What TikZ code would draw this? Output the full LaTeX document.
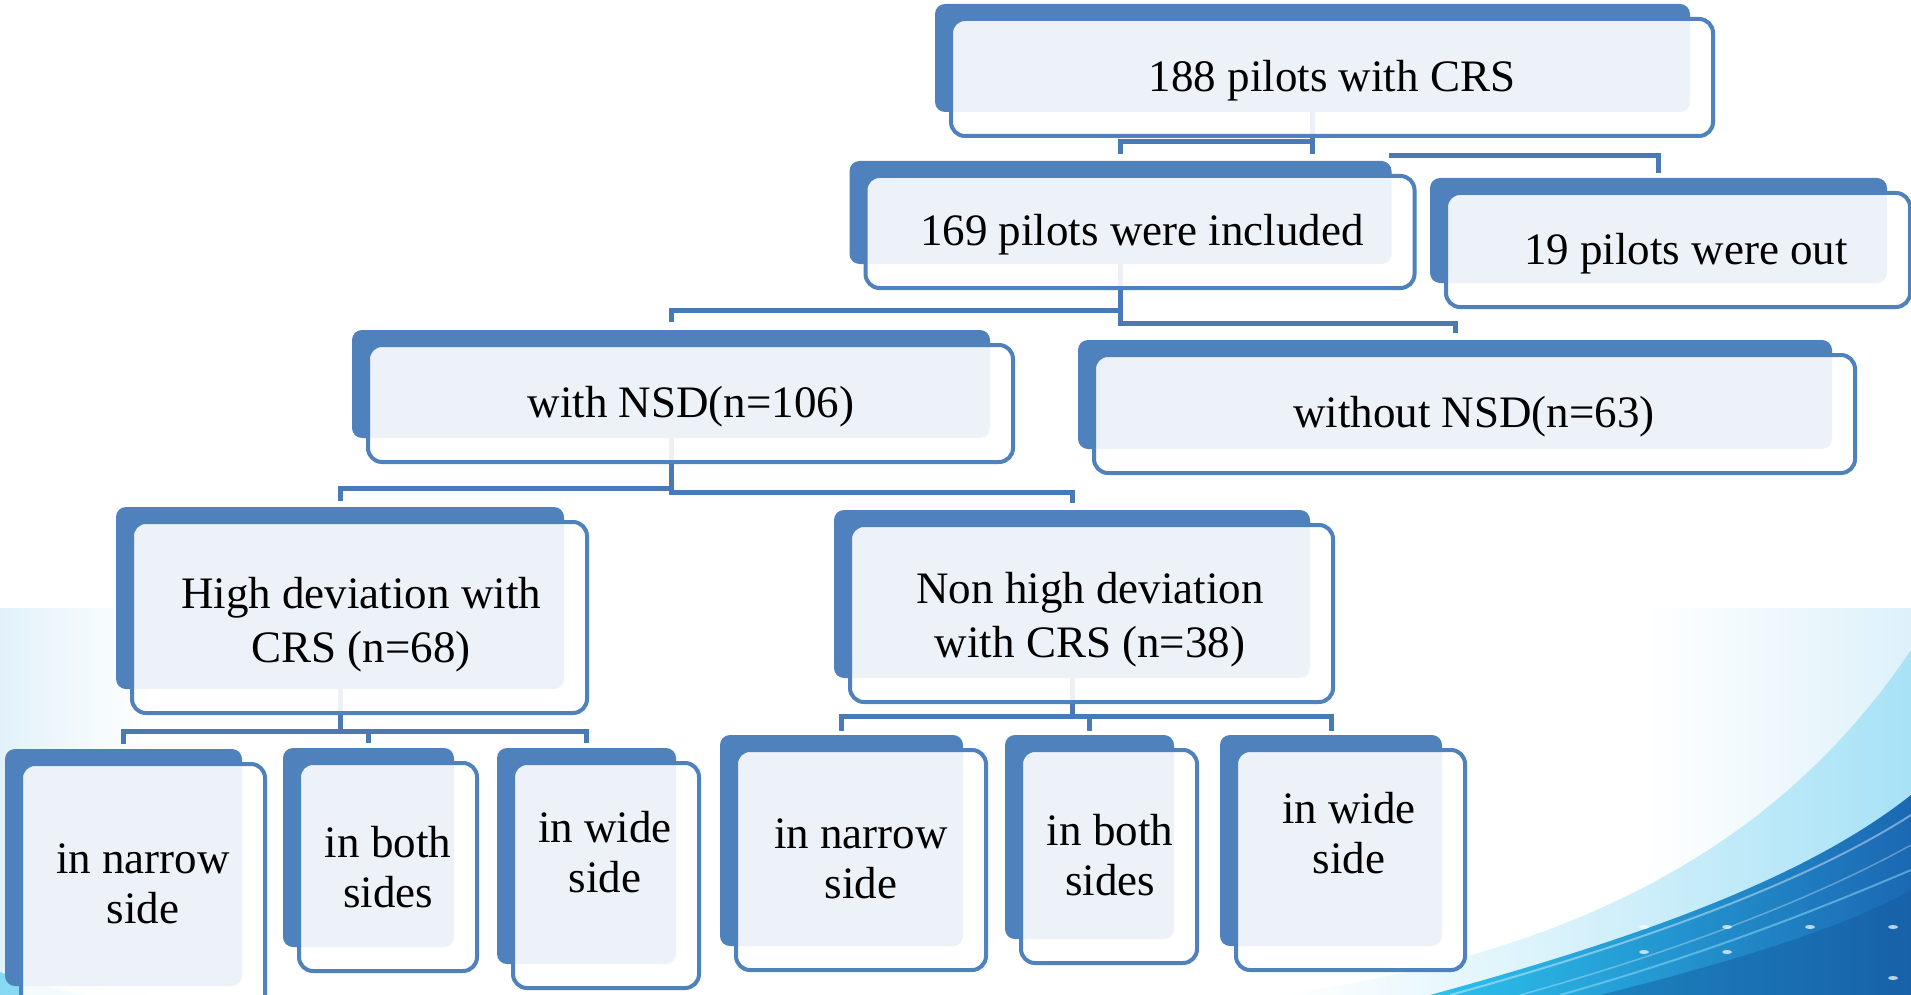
\documentclass[tikz,border=0pt]{standalone}
\usepackage{fontspec}
\setmainfont{Liberation Serif}
\usetikzlibrary{calc}
\definecolor{boxblue}{HTML}{4F81BD}
\definecolor{linkblue}{HTML}{4A7AB5}
\definecolor{bandL}{HTML}{E2F2FA}
\definecolor{bandR}{HTML}{DDF1FA}
\definecolor{hazec}{HTML}{A8E2F6}
\definecolor{waveA}{HTML}{2CC2EE}
\definecolor{waveB}{HTML}{1B68B2}
\definecolor{waveC}{HTML}{135A9E}
\pgfdeclarelayer{bg}
\pgfdeclarelayer{mid}
\pgfsetlayers{bg,mid,main}
\pgfdeclarehorizontalshading{band}{100bp}{color(0bp)=(bandL); color(25bp)=(bandL); color(29bp)=(white); color(68bp)=(white); color(75bp)=(bandR); color(100bp)=(bandR)}
\tikzset{
  backbox/.style={fill=boxblue, rounded corners=10pt, inner sep=0pt, outer sep=0pt},
  frontbox/.style={draw=boxblue, line width=4pt, fill=white, fill opacity=0.9, rounded corners=14pt, inner sep=0pt, outer sep=0pt},
  conn/.style={draw=linkblue, line width=5pt},
  lbl/.style={font=\fontsize{45}{54}\selectfont, text=black, inner sep=0pt, anchor=base},
  lblsmall/.style={font=\fontsize{45}{50}\selectfont, text=black, inner sep=0pt, anchor=base},
}
\newcommand{\duobox}[5]{%
  \node[frontbox, minimum width=#4pt, minimum height=#5pt] (#1) at (#2,#3) {};
  \begin{pgfonlayer}{mid}
    \node[backbox, minimum width=#4pt-7pt, minimum height=#5pt-9pt] (#1b) at ([xshift=-19.5pt,yshift=19.5pt]#1.center) {};
  \end{pgfonlayer}}
\newcommand{\twolines}[2]{\vtop{\halign{\hfil##\hfil\cr #1\cr #2\cr}}}
\begin{document}
\begin{tikzpicture}[x=1pt,y=-1pt]
\useasboundingbox (0,0) rectangle (1911,995);
\begin{pgfonlayer}{bg}
  \fill[white] (0,0) rectangle (1911,995);
  \shade[shading=band] (0,608) rectangle (1911,995);
  \shade[left color=white, right color=hazec] (1280,995) .. controls (1600,950) and (1790,830) .. (1911,650) -- (1911,995) -- cycle;
  \shade[left color=waveA, right color=waveB] (1430,995) .. controls (1650,935) and (1810,875) .. (1911,795) -- (1911,995) -- cycle;
  \fill[waveC, opacity=0.45] (1600,995) .. controls (1740,960) and (1850,925) .. (1911,890) -- (1911,995) -- cycle;
  \draw[white, opacity=0.4, line width=2pt] (1450,995) .. controls (1650,940) and (1810,880) .. (1911,815);
  \draw[white, opacity=0.3, line width=1.5pt] (1520,995) .. controls (1700,945) and (1830,890) .. (1911,845);
  \draw[waveA!50!white, opacity=0.5, line width=2pt] (1560,995) .. controls (1720,950) and (1840,900) .. (1911,870);
  \foreach \x/\y in {1644/927,1727/927,1810/927,1893/927,1644/952,1727/952,1893/978}
    \fill[white, opacity=0.7] (\x,\y) ellipse (5 and 2);
  \fill[waveA, opacity=0.5] (0,972) .. controls (30,983) and (60,991) .. (85,995) -- (0,995) -- cycle;
\end{pgfonlayer}

\duobox{A}{1332}{77.5}{762}{117}
\duobox{B}{1140}{232}{549}{112}
\duobox{C}{1678}{250}{464}{114}
\duobox{D}{690.5}{403.5}{645}{117}
\duobox{E}{1474.5}{414}{761}{118}
\duobox{F}{359.5}{617.5}{455}{191}
\duobox{G}{1091.5}{613.5}{483}{177}
\duobox{H1}{143}{887}{244}{246}
\duobox{H2}{388}{867}{178}{208}
\duobox{H3}{606}{875.5}{186}{225}
\duobox{G1}{861}{860}{250}{220}
\duobox{G2}{1109}{856.5}{176}{213}
\duobox{G3}{1350.5}{860}{229}{220}

\begin{pgfonlayer}{mid}
  % 188 -> 169
  \draw[conn] (Ab.south) -- ($(Ab.south |- Bb.north)+(0,-7)$);
  \draw[conn] ($(Ab.south)+(0,30)$) -| ($(Bb.north)+(0,-7)$);
  % -> 19 out
  \draw[conn] ($(Bb.north east)+(-3,-5)$) -| ($(Cb.north)+(0,-5)$);
  % 169 -> with / without NSD
  \draw[conn] (Bb.south) -- ($(Bb.south)+(0,59)$) -| ($(Eb.north)+(0,-7)$);
  \draw[conn] ($(Bb.south)+(0,46)$) -| ($(Db.north)+(0,-8)$);
  % with NSD -> high / non high
  \draw[conn] (Db.south) -- ($(Db.south)+(0,54)$) -| ($(Gb.north)+(0,-7)$);
  \draw[conn] ($(Db.south)+(0,50)$) -| ($(Fb.north)+(0,-6)$);
  % high -> children
  \draw[conn] (Fb.south) -- ($(Fb.south)+(0,41)$);
  \draw[conn] ($(H1b.north)+(0,-5)$) -- ($(H1b.north)+(0,-18)$) -| ($(H3b.north)+(0,-5)$);
  \draw[conn] ($(H2b.north)+(0,-5)$) -- ($(H2b.north)+(0,-18)$);
  % non high -> children
  \draw[conn] (Gb.south) -- ($(Gb.south)+(0,37)$);
  \draw[conn] ($(G1b.north)+(0,-4)$) -- ($(G1b.north)+(0,-19)$) -| ($(G3b.north)+(0,-4)$);
  \draw[conn] ($(G2b.north)+(0,-4)$) -- ($(G2b.north)+(0,-19)$);
\end{pgfonlayer}

\node[lbl] (At) at (1332,92) {188 pilots with CRS};
\node[lbl] (Bt) at (1142,245) {169 pilots were included};
\node[lbl] (Ct) at (1686,264) {19 pilots were out};
\node[lbl] (Dt) at (691,417) {with NSD(n=106)};
\node[lbl] (Et) at (1474,427) {without NSD(n=63)};
\node[lbl] (Ft) at (361,608) {\twolines{High deviation with}{CRS (n=68)}};
\node[lbl] (Gt) at (1090,603) {\twolines{Non high deviation}{with CRS (n=38)}};
\node[lblsmall] (H1t) at (143,873) {\twolines{in narrow}{side}};
\node[lblsmall] (H2t) at (388,857) {\twolines{in both}{sides}};
\node[lblsmall] (H3t) at (605,842) {\twolines{in wide}{side}};
\node[lblsmall] (G1t) at (861,848) {\twolines{in narrow}{side}};
\node[lblsmall] (G2t) at (1110,845) {\twolines{in both}{sides}};
\node[lblsmall] (G3t) at (1349,823) {\twolines{in wide}{side}};
\end{tikzpicture}
\end{document}
